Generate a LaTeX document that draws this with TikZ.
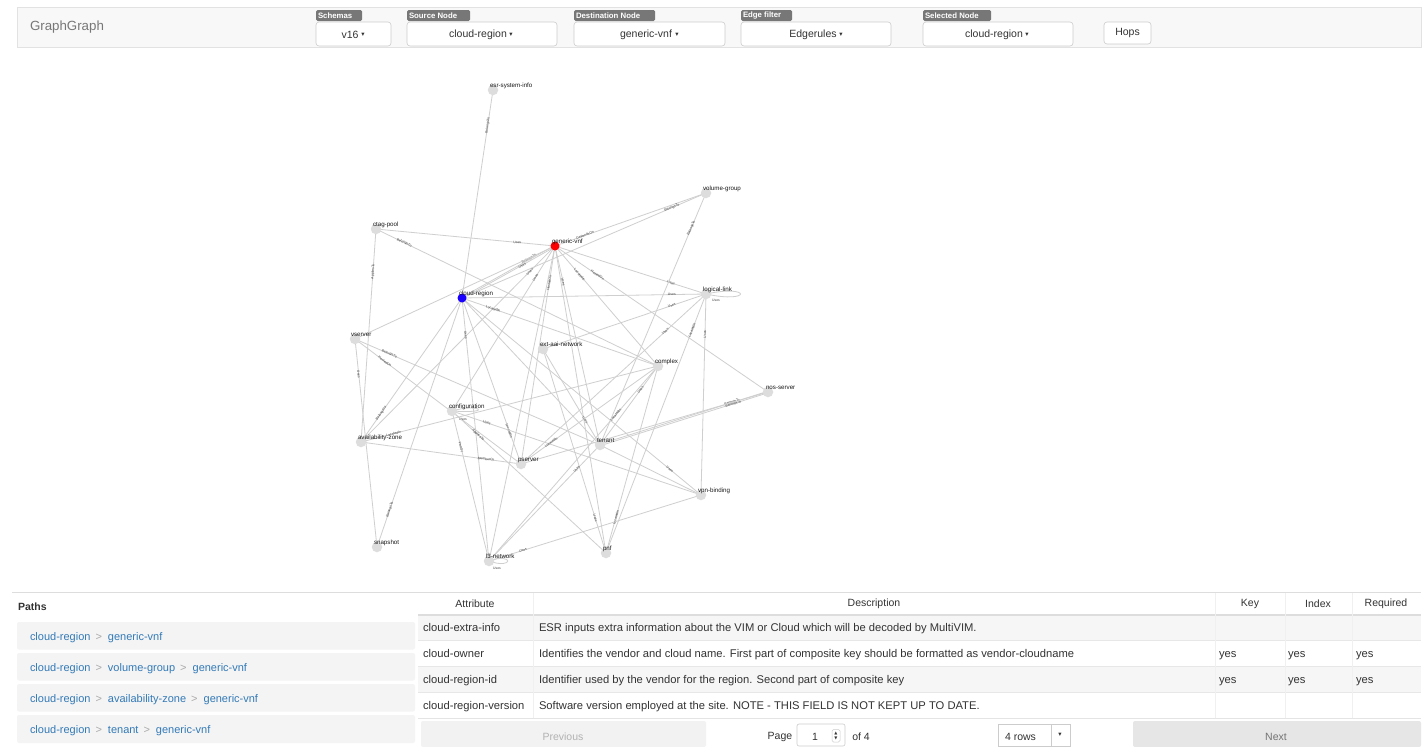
\documentclass[tikz,border=0pt]{standalone}
\usepackage{fontspec}
\setmainfont{Liberation Sans}
\newfontfamily\symfont{DejaVu Sans}
\pgfdeclarelayer{bg}
\pgfdeclarelayer{edges}
\pgfsetlayers{bg,edges,main}

\definecolor{edgegrey}{HTML}{CFCFCF}
\definecolor{nodegrey}{HTML}{DDDDDD}
\definecolor{vnfred}{HTML}{FF0000}
\definecolor{crblue}{HTML}{1A00FF}
\definecolor{hdrbg}{HTML}{F8F8F8}
\definecolor{hdrline}{HTML}{E2E2E2}
\definecolor{badgegrey}{HTML}{777777}
\definecolor{btnline}{HTML}{CCCCCC}
\definecolor{txt}{HTML}{333333}
\definecolor{brandgrey}{HTML}{777777}
\definecolor{linkblue}{HTML}{337AB7}
\definecolor{sepgrey}{HTML}{AAAAAA}
\definecolor{rowgrey}{HTML}{F6F6F6}
\definecolor{pathbg}{HTML}{F4F4F4}
\definecolor{rule}{HTML}{DDDDDD}
\definecolor{prevbg}{HTML}{F2F2F2}
\definecolor{nextbg}{HTML}{E6E6E6}

\newcommand{\fs}[1]{\fontsize{#1}{#1}\selectfont}

\begin{document}
\begin{tikzpicture}[x=1pt,y=-1pt,
  every node/.style={inner sep=0pt, outer sep=0pt},
  gnode/.style={circle, fill=nodegrey, minimum size=10.5pt},
  nlbl/.style={font=\fs{6.2}, text=black!90, anchor=base west},
  edge/.style={draw=edgegrey, line width=0.8pt},
  elbl/.style={font=\fs{3.4}, text=black!75, sloped},
  badge/.style={fill=badgegrey, rounded corners=1.5pt},
  badgetext/.style={font=\bfseries\fs{7.8}, text=white, anchor=west},
  btn/.style={fill=white, draw=btnline, line width=0.6pt, rounded corners=3pt},
  btntext/.style={font=\fs{10.5}, text=txt},
  pathtext/.style={font=\fs{11}, text=linkblue, anchor=base west},
  celltext/.style={font=\fs{11.2}, text=txt, anchor=base west},
  headtext/.style={font=\fs{10.5}, text=txt},
  caret/.style={font=\symfont\fs{6.5}, text=txt}
]
\useasboundingbox (0,0) rectangle (1425,747);
\begin{pgfonlayer}{bg}
\fill[white] (0,0) rectangle (1425,747);
\end{pgfonlayer}

% ---------- navigation bar ----------
\draw[fill=hdrbg, draw=hdrline, line width=0.8pt] (17,7) rectangle (1421,47);
\node[font=\fs{13.3}, text=brandgrey, anchor=west] (brand) at (30,27) {GraphGraph};

% Schemas
\fill[badge] (316,10) rectangle (362,21);
\node[badgetext] (bschema) at (318,15.8) {Schemas};
\draw[btn] (316,22) rectangle (391,46);
\node[btntext] (vschema) at (350,35) {v16};
\node[caret] (cschema) at (363,35) {▾};

% Source node
\fill[badge] (407,10) rectangle (470,21);
\node[badgetext] (bsource) at (409,15.8) {Source Node};
\draw[btn] (407,22) rectangle (557,46);
\node[btntext] (vsource) at (478,35) {cloud-region};
\node[caret] (csource) at (511,35) {▾};

% Destination node
\fill[badge] (574,10) rectangle (655,21);
\node[badgetext] (bdest) at (576,15.8) {Destination Node};
\draw[btn] (574,22) rectangle (725,46);
\node[btntext] (vdest) at (646,35) {generic-vnf};
\node[caret] (cdest) at (677,35) {▾};

% Edge filter
\fill[badge] (741,10) rectangle (792,21);
\node[badgetext] (bedge) at (743,15.8) {Edge filter};
\draw[btn] (741,22) rectangle (891,46);
\node[btntext] (vedge) at (813,35) {Edgerules};
\node[caret] (cedge) at (841,35) {▾};

% Selected node
\fill[badge] (923,10) rectangle (991,21);
\node[badgetext] (bsel) at (925,15.8) {Selected Node};
\draw[btn] (923,22) rectangle (1073,46);
\node[btntext] (vsel) at (994,35) {cloud-region};
\node[caret] (csel) at (1027,35) {▾};

% Hops
\draw[btn] (1104,22) rectangle (1151,44);
\node[btntext] (hops) at (1127.5,33) {Hops};

% ---------- schema graph ----------
\node[gnode] (esr)  at (493,90)  {};
\node[gnode] (ctag) at (376,229) {};
\node[gnode] (vg)   at (706,193) {};
\node[gnode] (ll)   at (706,294) {};
\node[gnode] (vs)   at (355,339) {};
\node[gnode] (ext)  at (543,349) {};
\node[gnode] (cx)   at (658,366) {};
\node[gnode] (nos)  at (768,392) {};
\node[gnode] (cfg)  at (452,411) {};
\node[gnode] (az)   at (361,442) {};
\node[gnode] (tn)   at (600,445) {};
\node[gnode] (ps)   at (521,464) {};
\node[gnode] (vpn)  at (701,495) {};
\node[gnode] (snap) at (377,547) {};
\node[gnode] (l3)   at (489,561) {};
\node[gnode] (pnf)  at (606,553) {};
\node[circle, fill=vnfred, minimum size=9pt] (gvnf) at (555,246) {};
\node[circle, fill=crblue, minimum size=9pt] (cr) at (462,298) {};

\node[nlbl] (esr-l)  at (490,87)    {esr-system-info};
\node[nlbl] (ctag-l) at (373,226.5) {ctag-pool};
\node[nlbl] (vg-l)   at (703,190.5) {volume-group};
\node[nlbl] (ll-l)   at (703,291.5) {logical-link};
\node[nlbl] (vs-l)   at (351,336.5) {vserver};
\node[nlbl] (ext-l)  at (540,346.5) {ext-aai-network};
\node[nlbl] (cx-l)   at (655,363.5) {complex};
\node[nlbl] (nos-l)  at (766,389.5) {nos-server};
\node[nlbl] (cfg-l)  at (449,408.5) {configuration};
\node[nlbl] (az-l)   at (358,439.5) {availability-zone};
\node[nlbl] (tn-l)   at (597,442.5) {tenant};
\node[nlbl] (ps-l)   at (518,461.5) {pserver};
\node[nlbl] (vpn-l)  at (698,492.5) {vpn-binding};
\node[nlbl] (snap-l) at (374,544.5) {snapshot};
\node[nlbl] (l3-l)   at (486,558.5) {l3-network};
\node[nlbl] (pnf-l)  at (603,550.5) {pnf};
\node[nlbl] (gvnf-l) at (552,243.5) {generic-vnf};
\node[nlbl] (cr-l)   at (459,295.5) {cloud-region};

\begin{pgfonlayer}{edges}
\draw[edge] (esr.center) -- node[elbl,pos=0.17]{BelongsTo} (cr.center);
\draw[edge] (ctag.center) -- node[elbl,pos=0.1]{BelongsTo} (cx.center);
\draw[edge] (ctag.center) -- node[elbl,pos=0.79]{Uses} (gvnf.center);
\draw[edge] (ctag.center) -- node[elbl,pos=0.2]{AppliesTo} (az.center);
% generic-vnf
\draw[edge] ([yshift=-0.8pt]gvnf.center) -- node[elbl,pos=0.27,above=0.4pt]{BelongsTo} ([yshift=-0.8pt]cr.center);
\draw[edge] ([yshift=0.8pt]gvnf.center) -- node[elbl,pos=0.36,below=0.4pt]{Uses} ([yshift=0.8pt]cr.center);
\draw[edge] (gvnf.center) -- (vs.center);
\draw[edge] (gvnf.center) -- node[elbl,pos=0.13]{Uses} (az.center);
\draw[edge] (gvnf.center) -- node[elbl,pos=0.19]{Uses} (cfg.center);
\draw[edge] (gvnf.center) -- node[elbl,pos=0.17]{HostedOn} (ps.center);
\draw[edge] (gvnf.center) -- node[elbl,pos=0.18]{Uses} (tn.center);
\draw[edge] (gvnf.center) -- (pnf.center);
\draw[edge] (gvnf.center) -- (l3.center);
\draw[edge] (gvnf.center) -- node[elbl,pos=0.2]{DependsOn} (vg.center);
\draw[edge] (gvnf.center) -- node[elbl,pos=0.77]{Uses} (ll.center);
\draw[edge] (gvnf.center) -- node[elbl,pos=0.2]{HostedOn} (nos.center);
\draw[edge] (gvnf.center) -- node[elbl,pos=0.24]{LocatedIn} (cx.center);
% cloud-region
\draw[edge] (cr.center) -- node[elbl,pos=0.86]{Uses} (ll.center);
\draw[edge] (cr.center) -- node[elbl,pos=0.86]{BelongsTo} (vg.center);
\draw[edge] (cr.center) -- node[elbl,pos=0.16]{LocatedIn} (cx.center);
\draw[edge] (cr.center) -- node[elbl,pos=0.8]{BelongsTo} (az.center);
\draw[edge] (cr.center) -- node[elbl,pos=0.85]{BelongsTo} (snap.center);
\draw[edge] (cr.center) -- node[elbl,pos=0.14]{Uses} (l3.center);
\draw[edge] (cr.center) -- node[elbl,pos=0.8]{LocatedIn} (ps.center);
\draw[edge] (cr.center) -- (tn.center);
\draw[edge] (cr.center) -- node[elbl,pos=0.87]{Uses} (vpn.center);
% volume-group, logical-link
\draw[edge] (vg.center) -- node[elbl,pos=0.14]{BelongsTo} (tn.center);
\draw[edge] (ll.center) -- node[elbl,pos=0.21]{Uses} (ext.center);
\draw[edge] (ll.center) -- node[elbl,pos=0.22]{Uses} (ps.center);
\draw[edge] (ll.center) -- node[elbl,pos=0.14]{LocatedIn} (pnf.center);
\draw[edge] (ll.center) -- node[elbl,pos=0.2]{Uses} (vpn.center);
\draw[edge] (ll.center) .. controls (752,284) and (752,304) .. (ll.center);
\node[elbl, rotate=0] (ll-loop) at (716,300.5) {Uses};
% vserver, availability-zone, configuration
\draw[edge] (vs.center) -- node[elbl,pos=0.17]{Uses} (snap.center);
\draw[edge] (vs.center) -- node[elbl,pos=0.18]{HostedOn} (ps.center);
\draw[edge] (vs.center) -- node[elbl,pos=0.14]{BelongsTo} (tn.center);
\draw[edge] (tn.center) -- (vpn.center);
\draw[edge] (az.center) -- node[elbl,pos=0.11]{LocatedIn} (cx.center);
\draw[edge] (az.center) -- node[elbl,pos=0.78]{MemberOf} (ps.center);
\draw[edge] (cfg.center) .. controls (478,403) and (496,414) .. (cfg.center);
\node[elbl, rotate=0] (cfg-loop) at (463,419) {Uses};
\draw[edge] (cfg.center) -- node[elbl,pos=0.24]{PartOf} (l3.center);
\draw[edge] (cfg.center) -- node[elbl,pos=0.17]{AppliesTo} (pnf.center);
\draw[edge] (cfg.center) -- node[elbl,pos=0.14]{Uses} (vpn.center);
% remaining edges
\draw[edge] (ext.center) -- node[elbl,pos=0.74]{Uses} (tn.center);
\draw[edge] (pnf.center) -- node[elbl,pos=0.17]{Uses} (ext.center);
\draw[edge] (pnf.center) -- node[elbl,pos=0.19]{LocatedIn} (cx.center);
\draw[edge] ([yshift=-0.8pt]tn.center) -- node[elbl,pos=0.79,above=0.2pt]{BelongsTo} ([yshift=-0.8pt]nos.center);
\draw[edge] ([yshift=0.8pt]tn.center) -- node[elbl,pos=0.79,below=0.2pt]{BelongsTo} ([yshift=0.8pt]nos.center);
\draw[edge] (ps.center) -- (nos.center);
\draw[edge] (ps.center) -- node[elbl,pos=0.22]{LocatedIn} (cx.center);
\draw[edge] (cx.center) -- node[elbl,pos=0.3]{Uses} (tn.center);
\draw[edge] (cx.center) -- node[elbl,pos=0.25]{LocatedIn} (l3.center);
\draw[edge] (tn.center) -- node[elbl,pos=0.21]{Uses} (l3.center);
\draw[edge] (l3.center) -- node[elbl,pos=0.16]{Uses} (vpn.center);
\draw[edge] (l3.center) .. controls (514,552) and (514,570) .. (l3.center);
\node[elbl, rotate=0] (l3-loop) at (497,568.5) {Uses};
\end{pgfonlayer}

% ---------- paths panel ----------
\draw[rule, line width=0.8pt] (12,592.5) -- (1421,592.5);
\node[font=\bfseries\fs{10.5}, text=txt, anchor=west] (pathshead) at (18,607) {Paths};

\fill[pathbg, rounded corners=2pt] (17,622) rectangle (415,649.5);
\fill[pathbg, rounded corners=2pt] (17,653) rectangle (415,680.5);
\fill[pathbg, rounded corners=2pt] (17,684) rectangle (415,711.5);
\fill[pathbg, rounded corners=2pt] (17,715) rectangle (415,743);

\node[pathtext] (p1) at (30,640) {cloud-region\hspace{5pt}{\color{sepgrey}>}\hspace{6pt}generic-vnf};
\node[pathtext] (p2) at (30,671) {cloud-region\hspace{5pt}{\color{sepgrey}>}\hspace{6pt}volume-group\hspace{5pt}{\color{sepgrey}>}\hspace{6pt}generic-vnf};
\node[pathtext] (p3) at (30,702) {cloud-region\hspace{5pt}{\color{sepgrey}>}\hspace{6pt}availability-zone\hspace{5pt}{\color{sepgrey}>}\hspace{6pt}generic-vnf};
\node[pathtext] (p4) at (30,733) {cloud-region\hspace{5pt}{\color{sepgrey}>}\hspace{6pt}tenant\hspace{5pt}{\color{sepgrey}>}\hspace{6pt}generic-vnf};

% ---------- attribute table ----------
\fill[rowgrey] (418,615) rectangle (1421,640);
\fill[rowgrey] (418,666.5) rectangle (1421,692.5);
\draw[rule!70, line width=0.5pt] (418,640) -- (1421,640);
\draw[rule!70, line width=0.5pt] (418,666.5) -- (1421,666.5);
\draw[rule!70, line width=0.5pt] (418,692.5) -- (1421,692.5);
\draw[rule, line width=1.2pt] (418,615) -- (1421,615);
\foreach \cx in {533,1215,1285,1352} {
  \draw[rule!45, line width=0.5pt] (\cx,593) -- (\cx,718);
}
\node[headtext] (h-attr) at (475,604) {Attribute};
\node[headtext] (h-desc) at (874,604) {Description};
\node[headtext] (h-key)  at (1250,604) {Key};
\node[headtext] (h-idx)  at (1318,604) {Index};
\node[headtext] (h-req)  at (1386,604) {Required};

\node[celltext] (a1) at (423,631.5) {cloud-extra-info};
\node[celltext] (d1) at (539,631.5) {ESR inputs extra information about the VIM or Cloud which will be decoded by MultiVIM.};
\node[celltext] (a2) at (423,657.5) {cloud-owner};
\node[celltext] (d2) at (539,657.5) {Identifies the vendor and cloud name. First part of composite key should be formatted as vendor-cloudname};
\node[celltext] (k2) at (1219,657.5) {yes};
\node[celltext] (i2) at (1288,657.5) {yes};
\node[celltext] (r2) at (1356,657.5) {yes};
\node[celltext] (a3) at (423,683.5) {cloud-region-id};
\node[celltext] (d3) at (539,683.5) {Identifier used by the vendor for the region. Second part of composite key};
\node[celltext] (k3) at (1219,683.5) {yes};
\node[celltext] (i3) at (1288,683.5) {yes};
\node[celltext] (r3) at (1356,683.5) {yes};
\node[celltext] (a4) at (423,709.5) {cloud-region-version};
\node[celltext] (d4) at (539,709.5) {Software version employed at the site. NOTE - THIS FIELD IS NOT KEPT UP TO DATE.};

% ---------- pagination ----------
\draw[rule!80, line width=1.5pt] (418,718.5) -- (1421,718.5);
\fill[prevbg, rounded corners=2pt] (421,721) rectangle (706,747);
\node[font=\fs{10.5}, text=black!30] (prev) at (563,737) {Previous};
\node[font=\fs{10.5}, text=txt] (pagelbl) at (780,737) {Page};
\draw[btnline, fill=white, rounded corners=2pt, line width=0.6pt] (797,724) rectangle (845,746);
\node[font=\fs{10.5}, text=txt] (pagenum) at (815,737) {1};
\draw[btnline, line width=0.5pt, rounded corners=1.5pt] (832,729.5) rectangle (840,742);
\node[font=\symfont\fs{4}, text=txt] (spinup) at (836,733.5) {▲};
\node[font=\symfont\fs{4}, text=txt] (spindn) at (836,738.5) {▼};
\node[font=\fs{10.5}, text=txt] (pageof) at (861,737) {of 4};
\draw[btnline, fill=white, line width=0.6pt] (998,724) rectangle (1070,746);
\draw[btnline, line width=0.6pt] (1051,724) -- (1051,746);
\node[font=\fs{10.5}, text=txt, anchor=west] (rows) at (1005,736.5) {4 rows};
\node[caret] (crows) at (1060,735) {▾};
\fill[nextbg, rounded corners=2pt] (1133,721) rectangle (1421,747);
\node[font=\fs{10.5}, text=black!55] (next) at (1276,737) {Next};
\end{tikzpicture}
\end{document}
